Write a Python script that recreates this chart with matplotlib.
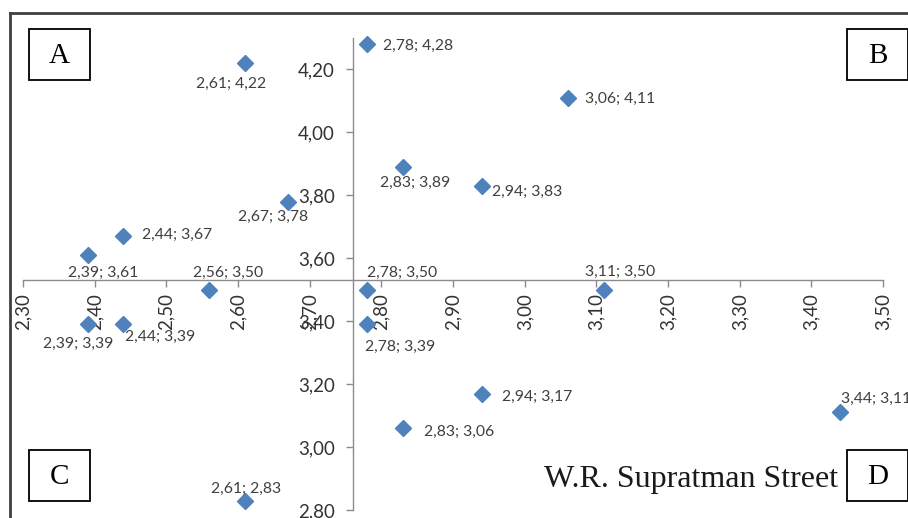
import matplotlib; matplotlib.use('Agg')
import matplotlib.pyplot as plt
from matplotlib.ticker import FuncFormatter, MultipleLocator
from matplotlib.lines import Line2D
from matplotlib.patches import Rectangle

# data: (x, y) pairs
x_vals = [2.61, 2.78, 3.06, 2.83, 2.94, 2.67, 2.44, 2.39, 2.56,
          2.78, 3.11, 2.39, 2.44, 2.78, 2.94, 2.83, 3.44, 2.61]
y_vals = [4.22, 4.28, 4.11, 3.89, 3.83, 3.78, 3.67, 3.61, 3.50,
          3.50, 3.50, 3.39, 3.39, 3.39, 3.17, 3.06, 3.11, 2.83]
x_cross = 2.76   # where the vertical axis crosses
y_cross = 3.53   # where the horizontal axis crosses
quadrants = ['A', 'B', 'C', 'D']
street = 'W.R. Supratman Street'

# label offsets in pixels (label centre relative to marker)
label_offsets = [(-14, -21), (51, -2), (52, -1), (12, -16), (45, -6), (-15, -15),
                 (54, 1), (16, -18), (19, 17), (35, 17), (17, 18), (-9, -20),
                 (37, -13), (33, -23), (55, -3), (56, -4), (36, 14), (1, 12)]

plt.rcParams['font.family'] = ['Lato', 'DejaVu Sans']
W, H = 908, 518
fig = plt.figure(figsize=(W / 100, H / 100), dpi=100)
ax = fig.add_axes([23 / W, (H - 510) / H, 860 / W, 472 / H])
ax.set_facecolor('none')

blue = '#4F81BD'
ax.plot(x_vals, y_vals, linestyle='none', marker='D', markersize=8.5,
        color=blue, zorder=3, clip_on=False)

comma = lambda v, p: f'{v:.2f}'.replace('.', ',')
for x, y, (dx, dy) in zip(x_vals, y_vals, label_offsets):
    ax.annotate(f'{comma(x, 0)}; {comma(y, 0)}', (x, y), xytext=(dx, dy),
                textcoords='offset pixels', ha='center', va='center',
                fontsize=11.3, color='#404040', annotation_clip=False)

ax.set_xlim(2.30, 3.50)
ax.set_ylim(2.80, 4.30)
ax.xaxis.set_major_locator(MultipleLocator(0.1))
ax.set_yticks([2.8, 3.0, 3.2, 3.4, 3.6, 3.8, 4.0, 4.2])
ax.xaxis.set_major_formatter(FuncFormatter(comma))
ax.yaxis.set_major_formatter(FuncFormatter(comma))

for s in ['top', 'right']:
    ax.spines[s].set_visible(False)
ax.spines['left'].set_position(('data', x_cross))
ax.spines['bottom'].set_position(('data', y_cross))
for s in ['left', 'bottom']:
    ax.spines[s].set_color('#8c8c8c')
    ax.spines[s].set_linewidth(1)
ax.tick_params(axis='both', colors='#8c8c8c', length=5, width=1,
               labelcolor='#333333', labelsize=13.5)
ax.tick_params(axis='x', rotation=90, pad=4)
ax.tick_params(axis='y', pad=8)

# outer frame lines (left and top)
fig.add_artist(Line2D([10 / W, 10 / W], [0, 1 - 13 / H], color='#404040', lw=2))
fig.add_artist(Line2D([10 / W, 1], [1 - 13 / H, 1 - 13 / H], color='#404040', lw=2))

# quadrant boxes
box_px = [(29, 29), (847, 29), (29, 450), (847, 450)]
for lab, (bx, by) in zip(quadrants, box_px):
    fig.add_artist(Rectangle((bx / W, 1 - (by + 51) / H), 61 / W, 51 / H,
                             transform=fig.transFigure, fill=True,
                             facecolor='white', edgecolor='black', lw=1.3))
    fig.text((bx + 30.5) / W, 1 - (by + 27) / H, lab, ha='center', va='center',
             fontsize=21, family='Liberation Serif', color='black')

fig.text(838 / W, 1 - 479 / H, street, ha='right', va='center',
         fontsize=23, family='Liberation Serif', color='#1a1a1a')

fig.savefig('out.png', dpi=100)
